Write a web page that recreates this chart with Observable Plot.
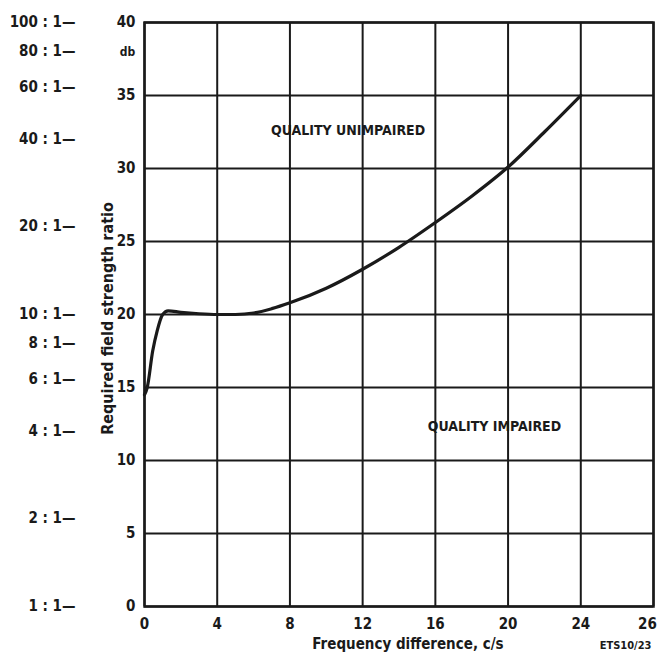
<!DOCTYPE html>
<html>
<head>
<meta charset="utf-8">
<script src="https://cdn.jsdelivr.net/npm/d3@7"></script>
<script src="https://cdn.jsdelivr.net/npm/@observablehq/plot@0.6"></script>
<style>
  html, body { margin: 0; padding: 0; background: #fff; }
  #chart { width: 659px; height: 656px; }
  svg { font-family: "DejaVu Sans Condensed", "DejaVu Sans", sans-serif; }
</style>
</head>
<body>
<div id="chart"></div>
<script>
// Frequency difference (c/s) and required field-strength ratio (db)
const freq = [0, 0.15, 0.45, 0.7, 1.0, 1.3, 2, 3, 4, 5, 6, 7, 8, 10, 12, 14, 16, 18, 20, 22, 24];
const dbValues = [14.5, 15, 17.5, 18.9, 20, 20.25, 20.15, 20.05, 20, 20, 20.1, 20.4, 20.8, 21.8, 23.1, 24.6, 26.3, 28.1, 30.1, 32.5, 35];

// Axes
const xTicks = [0, 4, 8, 12, 16, 20, 24, 28];
const xTickLabels = ["0", "4", "8", "12", "16", "20", "24", "26"];
const yTicks = [0, 5, 10, 15, 20, 25, 30, 35, 40];
const ratios = [100, 80, 60, 40, 20, 10, 8, 6, 4, 2, 1];
const ratioLabels = ["100 : 1—", "80 : 1—", "60 : 1—", "40 : 1—", "20 : 1—", "10 : 1—", "8 : 1—", "6 : 1—", "4 : 1—", "2 : 1—", "1 : 1—"];

// Region annotations
const regionNames = ["QUALITY UNIMPAIRED", "QUALITY IMPAIRED"];
const regionX = [11.2, 19.25];
const regionY = [32.6, 12.3];

const curve = freq.map((f, i) => ({f, db: dbValues[i]}));
const ratioRows = ratios.map((r, i) => ({db: 20 * Math.log10(r), label: ratioLabels[i]}));
const regions = regionNames.map((n, i) => ({n, x: regionX[i], y: regionY[i]}));
const tickLabelMap = new Map(xTicks.map((t, i) => [t, xTickLabels[i]]));
const xTicksInner = xTicks.slice(0, -1);
const xTickLast = xTicks.slice(-1);

const ink = "#1a1a1a";
const axisFont = {fontSize: 15, fontWeight: "bold", label: null, tickSize: 0};

const chart = Plot.plot({
  width: 659,
  height: 656,
  marginLeft: 144,
  marginRight: 6,
  marginTop: 22,
  marginBottom: 50,
  x: {domain: [0, 28]},
  y: {domain: [0, 40]},
  style: {fontFamily: "'DejaVu Sans Condensed', 'DejaVu Sans', sans-serif", color: ink, background: "#fff"},
  marks: [
    Plot.ruleX(xTicks, {stroke: ink, strokeWidth: 2}),
    Plot.ruleY(yTicks, {stroke: ink, strokeWidth: 2}),
    Plot.frame({stroke: ink, strokeWidth: 2.5}),
    Plot.line(curve, {x: "f", y: "db", stroke: ink, strokeWidth: 3.2, curve: "monotone-x"}),
    Plot.axisY(yTicks, {anchor: "left", tickPadding: 9, ...axisFont}),
    Plot.axisX(xTicksInner, {anchor: "bottom", tickPadding: 12, ...axisFont, tickFormat: (d) => tickLabelMap.get(d)}),
    Plot.axisX(xTickLast, {anchor: "bottom", tickPadding: 12, ...axisFont, dx: -6, tickFormat: (d) => tickLabelMap.get(d)}),
    Plot.text(["db"], {x: 0, y: 40, dx: -17, dy: 30, fontSize: 12, fontWeight: "bold", textAnchor: "middle", fill: ink}),
    Plot.text(ratioRows, {frameAnchor: "left", y: "db", text: "label", dx: -69, textAnchor: "end", fontSize: 15, fontWeight: "bold", fill: ink}),
    Plot.text(regions, {x: "x", y: "y", text: "n", fontSize: 14, fontWeight: "bold", fill: ink, letterSpacing: "2.2px"}),
    Plot.text(["Required field strength ratio"], {frameAnchor: "left", textAnchor: "middle", dx: -37, dy: 4, rotate: -90, fontSize: 16, fontWeight: "bold", fill: ink, letterSpacing: "1px"}),
    Plot.text(["Frequency difference, c/s"], {frameAnchor: "bottom", textAnchor: "middle", dx: 9, dy: 42, fontSize: 15, fontWeight: "bold", fill: ink, letterSpacing: "1.3px"}),
    Plot.text(["ETS10/23"], {frameAnchor: "bottom-right", dx: -2, dy: 42, textAnchor: "end", fontSize: 11, fontWeight: "bold", fill: ink, letterSpacing: "0.5px"})
  ]
});

document.getElementById("chart").appendChild(chart);
</script>
</body>
</html>
